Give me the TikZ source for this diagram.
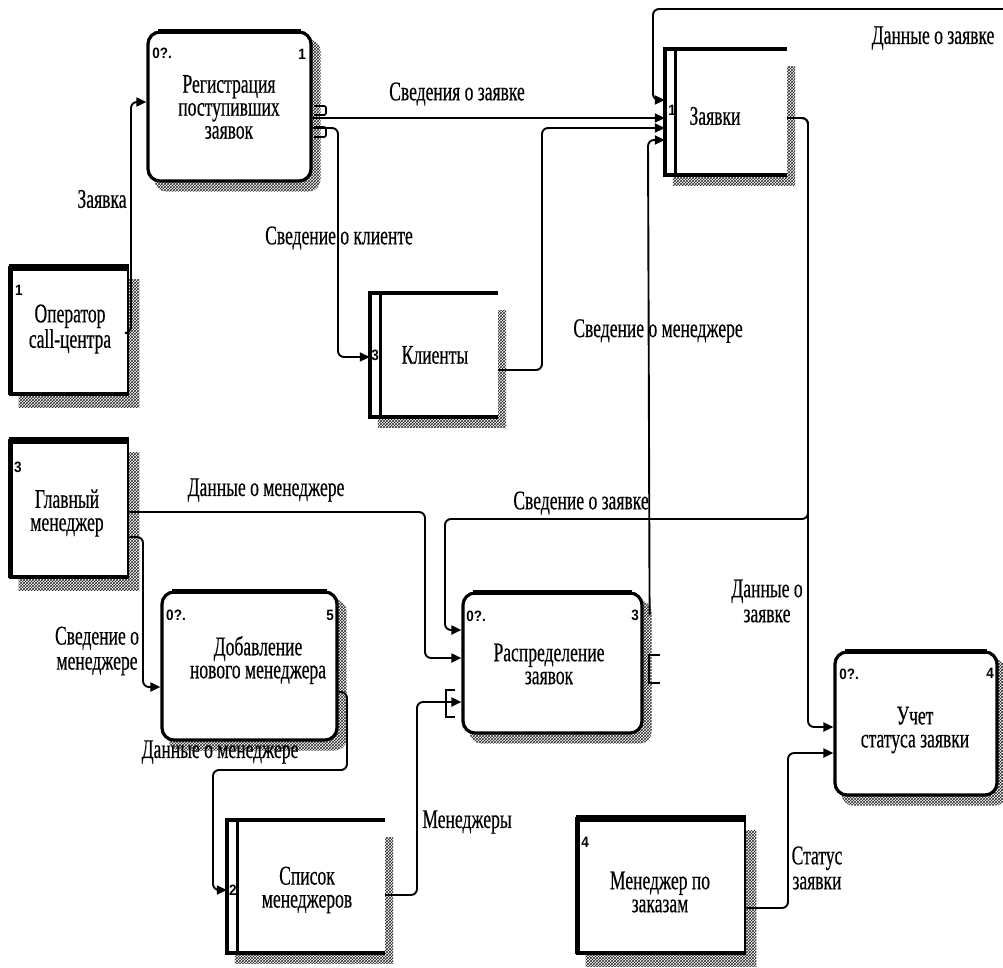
\documentclass[tikz,border=0pt]{standalone}
\usepackage{fontspec}
\setmainfont{Liberation Serif}[FakeStretch=0.65,FakeBold=0.4]
\newfontfamily\numfont{Liberation Sans}[FakeStretch=0.9]
\usetikzlibrary{arrows.meta,calc,patterns}
\pgfdeclarelayer{bg}
\pgfsetlayers{bg,main}
\tikzset{
  txt/.style={font=\fontsize{27}{23}\selectfont, align=center, inner sep=0pt},
  lbl/.style={font=\fontsize{27}{25}\selectfont, align=center, inner sep=0pt},
  num/.style={font=\numfont\bfseries\fontsize{15}{15}\selectfont, inner sep=0pt},
  procbox/.style={draw, line width=3.2pt, rounded corners=12pt, fill=white},
  extbox/.style={draw, line width=2.6pt, fill=white},
  storebox/.style={fill=white},
  shadowfill/.style={pattern=crosshatch, pattern color=black!85},
  flow/.style={line width=1.9pt, rounded corners=6pt, -{Triangle[length=10pt,width=9pt]}},
  tunnel/.style={line width=1.7pt},
}
\begin{document}
\begin{tikzpicture}[x=1pt,y=-1pt]
\useasboundingbox (0,0) rectangle (1003,967);

% ---- processes
\node[procbox, minimum width=163pt, minimum height=149pt] (reg) at (229.5,106.5) {};
\node[procbox, minimum width=175pt, minimum height=148pt] (dob) at (249.5,666) {};
\node[procbox, minimum width=179pt, minimum height=140pt] (ras) at (552.5,663) {};
\node[procbox, minimum width=162pt, minimum height=143pt] (uch) at (916,723.5) {};
\foreach \n in {reg,dob,ras,uch}
  \draw[line width=5.5pt] ($(\n.north west)+(12,1)$) -- ($(\n.north east)+(-12,1)$);

% ---- external entities
\node[extbox, minimum width=118pt, minimum height=127pt] (oper) at (69,330.5) {};
\node[extbox, minimum width=118pt, minimum height=137pt] (glav) at (69,508.5) {};
\node[extbox, minimum width=168pt, minimum height=135pt] (menz) at (661,885.5) {};
\foreach \n in {oper,glav,menz}{
  \draw[line width=6.5pt] ($(\n.north west)+(0,2)$) -- ($(\n.north east)+(0,2)$);
  \draw[line width=5pt] ($(\n.north west)+(1.5,0)$) -- ($(\n.south west)+(1.5,0)$);
  \draw[line width=4pt] ($(\n.south west)+(0,-1)$) -- ($(\n.south east)+(0,-1)$);
}

% ---- data stores
\node[storebox, minimum width=122pt, minimum height=126pt] (zay) at (726,112) {};
\node[storebox, minimum width=128pt, minimum height=124pt] (kli) at (434,355) {};
\node[storebox, minimum width=158pt, minimum height=133pt] (spis) at (306,886.5) {};
\foreach \n in {zay,kli,spis}{
  \draw[line width=4.5pt] (\n.north east) -- (\n.north west) -- (\n.south west) -- (\n.south east);
  \draw[line width=3.2pt] ($(\n.north west)+(11,0)$) -- ($(\n.south west)+(11,0)$);
}

% ---- hatched shadows
\begin{pgfonlayer}{bg}
  \foreach \n in {reg,dob,ras,uch}
    \fill[shadowfill, rounded corners=12pt] ($(\n.north west)+(8,9)$) rectangle ($(\n.south east)+(8,9)$);
  \foreach \n in {oper,glav,menz}
    \fill[shadowfill] ($(\n.north west)+(10,14)$) rectangle ($(\n.south east)+(10,12)$);
  \foreach \n in {zay,kli,spis}
    \fill[shadowfill] ($(\n.north west)+(8,18)$) rectangle ($(\n.south east)+(8,10)$);
\end{pgfonlayer}

% ---- box texts
\node[txt] (reg-t) at (229,107) {Регистрация\\поступивших\\заявок};
\node[txt] (dob-t) at (258,660) {Добавление\\нового менеджера};
\node[txt] (ras-t) at (549,664) {Распределение\\заявок};
\node[txt] (uch-t) at (915,730) {Учет\\статуса заявки};
\node[txt] (oper-t) at (70,329) {Оператор\\call-центра};
\node[txt] (glav-t) at (67,513) {Главный\\менеджер};
\node[txt] (menz-t) at (660,892) {Менеджер по\\заказам};
\node[txt] (zay-t) at (715,116) {Заявки};
\node[txt] (kli-t) at (435,355) {Клиенты};
\node[txt] (spis-t) at (307,890) {Список\\менеджеров};

% ---- box numbers
\node[num] (reg-a) at (162,53) {0?.};
\node[num] (reg-b) at (302,54) {1};
\node[num] (dob-a) at (176,615) {0?.};
\node[num] (dob-b) at (330,615) {5};
\node[num] (ras-a) at (476,616) {0?.};
\node[num] (ras-b) at (635,615) {3};
\node[num] (uch-a) at (849,674) {0?.};
\node[num] (uch-b) at (990,673) {4};
\node[num] (oper-a) at (19,290) {1};
\node[num] (glav-a) at (18,467) {3};
\node[num] (menz-a) at (585,842) {4};
\node[num] (zay-a) at (672,110) {1};
\node[num] (kli-a) at (375,355) {3};
\node[num] (spis-a) at (233,890) {2};

% ---- free end of the flow coming from the right
\coordinate (outR) at (1003,9);

% ---- flows
\draw[flow] (oper.east |- 0,333) -- (131,333) -- (131,102) -- (reg.west |- 0,102);
\draw[flow] (reg.east |- 0,118) -- (zay.west |- 0,118);
\draw[flow] (reg.east |- 0,128) -- (338,128) -- (338,357) -- (kli.west |- 0,357);
\draw[flow] (kli.east |- 0,370) -- (542,370) -- (542,128) -- (zay.west |- 0,128);
\draw[flow] (outR) -- (653,9) -- (653,100) -- (zay.west |- 0,100);
\draw[flow] ($(ras.north east)+(6,24)$) -- (648,140) -- (zay.west |- 0,140);
\draw[flow] (zay.east |- 0,118) -- (808,118) -- (808,727) -- (uch.west |- 0,727);
\draw[flow] (zay.east |- 0,118) -- (808,118) -- (808,519) -- (445,519) -- (445,630) -- (ras.west |- 0,630);
\draw[flow] (glav.east |- 0,512) -- (425,512) -- (425,658) -- (ras.west |- 0,658);
\draw[flow] (glav.east |- 0,537) -- (143,537) -- (143,687) -- (dob.west |- 0,687);
\draw[flow] (dob.east |- 0,692) -- (347,692) -- (347,770) -- (213,770) -- (213,890) -- (spis.west |- 0,890);
\draw[flow] (spis.east |- 0,895) -- (417,895) -- (417,702) -- (ras.west |- 0,702);
\draw[flow] (menz.east |- 0,908) -- (788,908) -- (788,753) -- (uch.west |- 0,753);

% ---- tunnel marks
\draw[tunnel, rounded corners=2pt] (314,106) -- (326,106) -- (326,115) -- (314,115);
\draw[tunnel, rounded corners=2pt] (314,127) -- (326,127) -- (326,137) -- (314,137);
\draw[tunnel] (455,690) -- (446,690) -- (446,717) -- (455,717);
\draw[tunnel] (660,655) -- (649,655) -- (649,683) -- (660,683);

% ---- flow labels
\node[lbl] (l-zayavka) at (102,199) {Заявка};
\node[lbl] (l-sv-zayavke) at (457,94) {Сведения о заявке};
\node[lbl] (l-sv-kliente) at (339,238) {Сведение о клиенте};
\node[lbl] (l-dan-top) at (933,38) {Данные о заявке};
\node[lbl] (l-sv-men) at (658,331) {Сведение о менеджере};
\node[lbl] (l-dan-men1) at (266,490) {Данные о менеджере};
\node[lbl] (l-sv-zay2) at (581,503) {Сведение о заявке};
\node[lbl] (l-dan-zay) at (767,601) {Данные о\\заявке};
\node[lbl] (l-sv-men2) at (97,651) {Сведение о\\менеджере};
\node[lbl] (l-dan-men2) at (220,752) {Данные о менеджере};
\node[lbl] (l-men) at (467,822) {Менеджеры};
\node[lbl] (l-status) at (817,868) {Статус\\заявки};
\end{tikzpicture}
\end{document}
